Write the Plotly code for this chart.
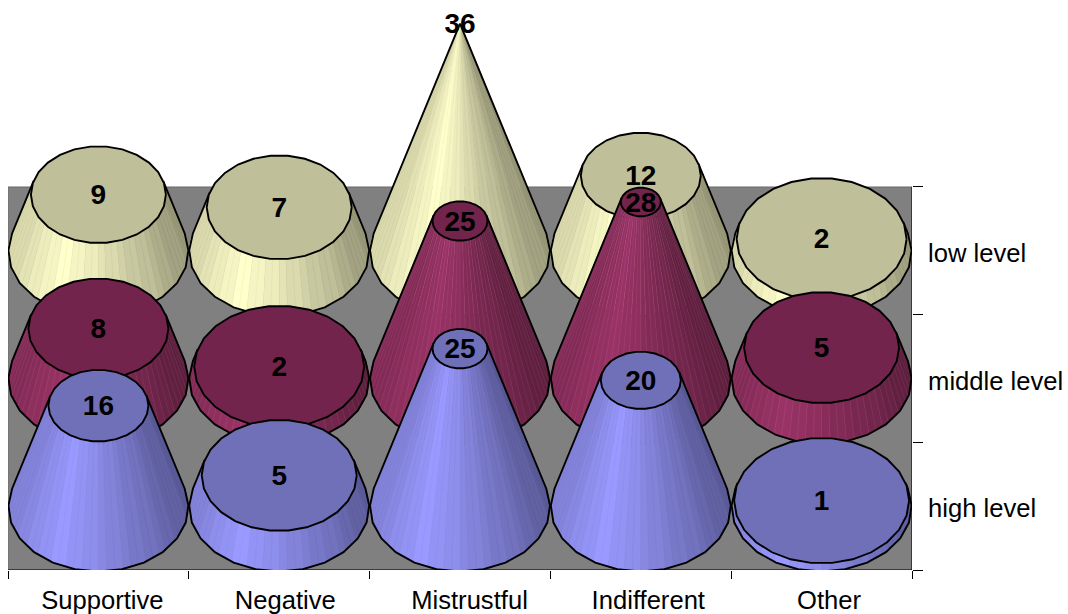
import math
import plotly.graph_objects as go

categories = ["Supportive", "Negative", "Mistrustful", "Indifferent", "Other"]
levels = ["high level", "middle level", "low level"]
high_level = [16, 5, 25, 20, 1]
middle_level = [8, 2, 25, 28, 5]
low_level = [9, 7, 36, 12, 2]

AXIS_MAX = 36
PX_X = 180.8
PX_Y = 127.67
BASE_OFF = 63 / PX_Y       # base centre above row bottom
LABEL_OFF = 61.5 / PX_Y
TEXT_NUDGE = 2.5 / PX_Y
RX = 90 / PX_X
RY = 64.5 / PX_Y
HEIGHT = 228 / PX_Y
LABEL_SHIFT = [4 / PX_X, 6 / PX_X, 9.5 / PX_X, 7.5 / PX_X, 7.5 / PX_X]

STYLE = {
    "low level": dict(side=(255, 255, 204), top="#BFBF99", seam=(-10, -10, -10)),
    "middle level": dict(side=(153, 51, 102), top="#72244C", seam=(14, 14, 14)),
    "high level": dict(side=(153, 153, 255), top="#7070B8", seam=(-5, -5, -5)),
}


def shade(c):
    """brightness from the x position on the cone's front, c=-1 left, c=1 right"""
    pts = [(-1.0, 0.84), (-0.6, 0.97), (-0.45, 1.0), (-0.25, 0.97), (0.1, 0.88), (0.5, 0.78), (1.0, 0.62)]
    for (a, fa), (b, fb) in zip(pts, pts[1:]):
        if c <= b:
            return fa + (fb - fa) * (c - a) / (b - a)
    return pts[-1][1]


def ring(cx, cy, s, t):
    return cx + RX * s * math.cos(t), cy + RY * s * math.sin(t)


fig = go.Figure()
rows = [("low level", low_level, 2), ("middle level", middle_level, 1), ("high level", high_level, 0)]
NSHADE = 28
NFACET = 40
NOUT = 26

for name, vals, row in rows:
    st = STYLE[name]
    buckets = {}
    outline_x, outline_y = [], []
    caps = []
    for i, v in enumerate(vals):
        cx, cy = i, row + BASE_OFF
        frac = v / AXIS_MAX
        sc = 1 - frac
        ty = cy + HEIGHT * frac
        t0 = math.asin(RY / HEIGHT)
        start, end = math.pi - t0, 2 * math.pi + t0
        # side facets
        for k in range(NFACET):
            a = start + (end - start) * k / NFACET
            b = start + (end - start) * (k + 1) / NFACET
            lvl = round(shade(math.cos((a + b) / 2)) * NSHADE)
            p = [ring(cx, cy, 1, a), ring(cx, cy, 1, b), ring(cx, ty, sc, b), ring(cx, ty, sc, a)]
            bx, by = buckets.setdefault(lvl, ([], []))
            bx += [q[0] for q in p] + [p[0][0], None]
            by += [q[1] for q in p] + [p[0][1], None]
        # silhouette and front base arc
        sil = [ring(cx, ty, sc, start)]
        m = NOUT // 2 + 1
        sil += [ring(cx, cy, 1, start + (end - start) * k / m) for k in range(m + 1)]
        sil += [ring(cx, ty, sc, end)]
        outline_x += [q[0] for q in sil] + [None]
        outline_y += [q[1] for q in sil] + [None]
        if sc > 0:
            caps.append([ring(cx, ty, sc, 2 * math.pi * k / NOUT) for k in range(NOUT + 1)])
    for lvl in sorted(buckets):
        f = lvl / NSHADE
        rgb = [int(c * f) for c in st["side"]]
        seam = [min(255, max(0, c + d)) for c, d in zip(rgb, st["seam"])]
        fig.add_trace(go.Scatter(x=buckets[lvl][0], y=buckets[lvl][1], mode="lines", fill="toself",
                                 fillcolor="rgb(%d,%d,%d)" % tuple(rgb),
                                 line=dict(color="rgb(%d,%d,%d)" % tuple(seam), width=0.5),
                                 hoverinfo="skip", showlegend=False, cliponaxis=False))
    fig.add_trace(go.Scatter(x=outline_x, y=outline_y, mode="lines", line=dict(color="black", width=1.9),
                             hoverinfo="skip", showlegend=False, cliponaxis=False))
    capx, capy = [], []
    for c in caps:
        capx += [q[0] for q in c] + [None]
        capy += [q[1] for q in c] + [None]
    fig.add_trace(go.Scatter(x=capx, y=capy, mode="lines", fill="toself", fillcolor=st["top"],
                             line=dict(color="black", width=1.9),
                             hoverinfo="skip", showlegend=False, cliponaxis=False))
    fig.add_trace(go.Scatter(x=list(range(len(vals))),
                             y=[row + BASE_OFF + HEIGHT * v / AXIS_MAX - TEXT_NUDGE for v in vals],
                             mode="text", text=[str(v) for v in vals],
                             textposition="middle center",
                             textfont=dict(family="Liberation Sans", size=28, color="black", weight="bold"),
                             hoverinfo="skip", showlegend=False, cliponaxis=False))

n = len(categories)
fig.update_layout(
    width=1068, height=614, autosize=False,
    margin=dict(l=8, r=156, t=0, b=44),
    paper_bgcolor="white", plot_bgcolor="white",
    font=dict(family="Liberation Sans", size=25.6, color="black"),
    showlegend=False,
    xaxis=dict(range=[-0.5, n - 0.5], showgrid=False, zeroline=False, showline=False, automargin=False,
               tickmode="array", tickvals=[i + s for i, s in enumerate(LABEL_SHIFT)], ticktext=categories,
               ticks="outside", ticklen=7, tickcolor="rgba(0,0,0,0)",
               minor=dict(tickmode="array", tickvals=[i - 0.5 for i in range(n + 1)],
                          ticks="outside", ticklen=8, tickcolor="black", tickwidth=1, showgrid=False)),
    yaxis=dict(range=[0, 570 / PX_Y], side="right", showgrid=False, zeroline=False, showline=False, automargin=False,
               tickmode="array", tickvals=[i + LABEL_OFF for i in range(3)], ticktext=levels,
               ticks="outside", ticklen=10, tickcolor="rgba(0,0,0,0)",
               minor=dict(tickmode="array", tickvals=[0, 1, 2, 3],
                          ticks="outside", ticklen=10, tickcolor="black", tickwidth=1, showgrid=False)),
    shapes=[
        dict(type="rect", layer="below", xref="x", yref="y", x0=-0.5, x1=n - 0.5, y0=0, y1=3,
             fillcolor="#808080", line=dict(color="#6a6a6a", width=1)),
        dict(type="line", layer="below", xref="x", yref="y", x0=n - 0.5, x1=n - 0.5, y0=0, y1=3,
             line=dict(color="black", width=1)),
        dict(type="line", layer="below", xref="x", yref="y", x0=-0.5, x1=n - 0.5, y0=0, y1=0,
             line=dict(color="black", width=1)),
    ],
)

fig.write_html("out.html", config=dict(displayModeBar=False),
               post_script="document.body.style.margin='0';document.documentElement.style.overflow='hidden';")
